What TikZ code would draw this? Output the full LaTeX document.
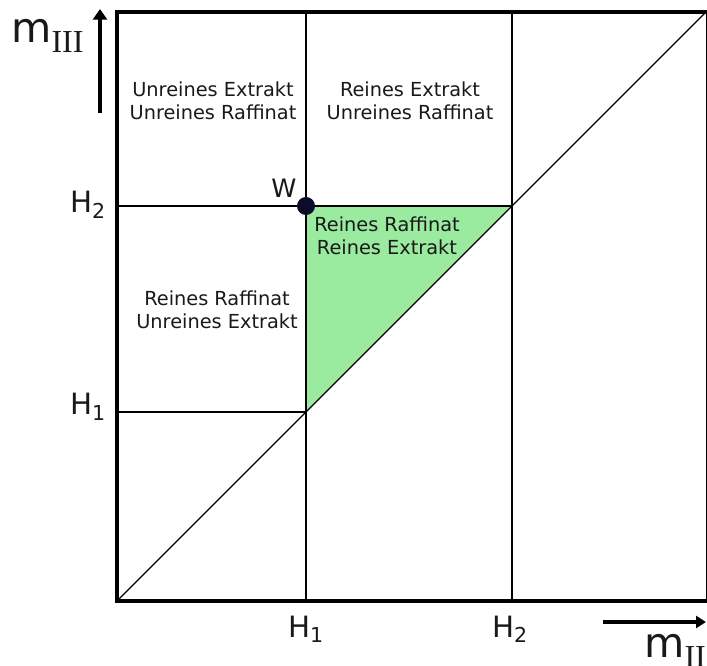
\documentclass[tikz,border=0pt]{standalone}
\usepackage{fontspec}
\setmainfont{DejaVu Sans}
\newfontfamily\romfont{Liberation Serif}
\usepackage{tikz}
\usetikzlibrary{calc,positioning,arrows.meta}
\definecolor{puregreen}{HTML}{9AEAA0}
\definecolor{wdot}{HTML}{0B0B2A}

\begin{document}
\begin{tikzpicture}[x=0.75pt, y=-0.75pt, every node/.style={font=\fontsize{14.5}{17.5}\selectfont, align=center, text=black!90}]
  \useasboundingbox (0,0) rectangle (707,666);
  \clip (0,0) rectangle (707,666);
  \coordinate (o) at (117,601);
  \coordinate (tl) at (117,12);
  \coordinate (tr) at (706,12);
  \coordinate (h1) at (306,412);
  \coordinate (h2) at (512,206);
  \coordinate (w) at (306,206);
  \fill[puregreen] (w) -- (h2) -- (h1) -- cycle;
  \draw[line width=1pt] (o) -- (tr);
  \draw[line width=1pt] (h1 |- o) -- (h1 |- tl);
  \draw[line width=1pt] (h2 |- o) -- (h2 |- tl);
  \draw[line width=1pt] (o |- h1) -- (h1);
  \draw[line width=1pt] (o |- h2) -- (h2);
  \draw[line width=3.5pt] (tl) rectangle (708.5,601);
  \fill[wdot] (w) circle[radius=6.75pt];
  \node[anchor=base, font=\fontsize{19}{19}\selectfont] (wlab) at (284,198) {W};
  % axis arrows
  \coordinate (ytail) at (100,113);
  \coordinate (yhead) at (100,9);
  \coordinate (xtail) at (603,622);
  \coordinate (xhead) at (706,622);
  \draw[line width=3.5pt, -{Triangle[length=8pt, width=10.5pt]}] (ytail) -- (yhead);
  \draw[line width=3pt, -{Triangle[length=7.5pt, width=9pt]}] (xtail) -- (xhead);
  \node[anchor=base west, inner sep=0pt, font=\fontsize{31}{31}\selectfont] (mthree) at (11,43) {m\raisebox{-7.5pt}{\romfont\fontsize{24}{24}\selectfont III}};
  \node[anchor=base west, inner sep=0pt, font=\fontsize{31}{31}\selectfont] (mtwo) at (644,657) {m\raisebox{-7.5pt}{\romfont\fontsize{24}{24}\selectfont II}};
  % ticks
  \node[anchor=base, font=\fontsize{22}{22}\selectfont] (bh1) at (306,637) {H\textsubscript{1}};
  \node[anchor=base, font=\fontsize{22}{22}\selectfont] (bh2) at (510,637) {H\textsubscript{2}};
  \node[anchor=base, font=\fontsize{22}{22}\selectfont] (lh1) at (88,415) {H\textsubscript{1}};
  \node[anchor=base, font=\fontsize{22}{22}\selectfont] (lh2) at (88,213) {H\textsubscript{2}};
  % regions
  \node (ueur) at (213,101) {Unreines Extrakt\\Unreines Raffinat};
  \node (reur) at (410,101) {Reines Extrakt\\Unreines Raffinat};
  \node (rrue) at (217,310) {Reines Raffinat\\Unreines Extrakt};
  \node (rrre) at (387,236) {Reines Raffinat\\Reines Extrakt};
\end{tikzpicture}
\end{document}
